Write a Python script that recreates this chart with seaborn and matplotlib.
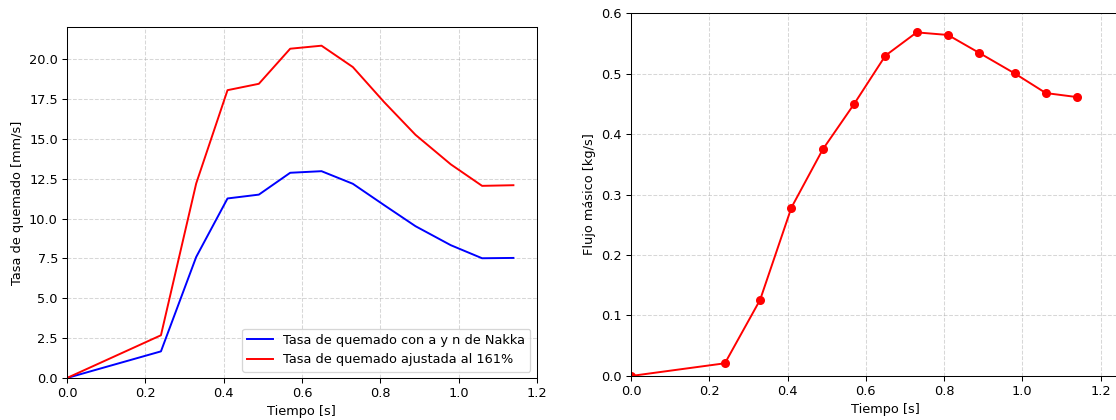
import matplotlib
matplotlib.use("Agg")
import matplotlib.pyplot as plt
import seaborn as sns
import numpy as np

tiempo = [0.0, 0.24, 0.33, 0.41, 0.49, 0.57, 0.65, 0.73, 0.81, 0.89, 0.98, 1.06, 1.14]
tasa_nakka = [0.0, 1.67, 7.59, 11.26, 11.50, 12.87, 12.97, 12.18, 10.84, 9.52, 8.33, 7.51, 7.53]
tasa_ajustada = [0.0, 2.68, 12.20, 18.05, 18.45, 20.65, 20.84, 19.50, 17.30, 15.25, 13.40, 12.05, 12.09]
flujo_masico = [0.0, 0.021, 0.126, 0.2785, 0.3745, 0.4495, 0.5295, 0.568, 0.5637, 0.534, 0.5003, 0.4677, 0.461]

label_nakka = "Tasa de quemado con a y n de Nakka"
label_ajust = "Tasa de quemado ajustada al 161%"

fig = plt.figure(figsize=(12, 420 / 93), dpi=93)
ax1 = fig.add_axes([0.0600, 0.100, 0.4211, 0.8364])
ax2 = fig.add_axes([0.5654, 0.1048, 0.4559, 0.8642])

sns.lineplot(x=tiempo, y=tasa_nakka, ax=ax1, color="blue", label=label_nakka, linewidth=1.5)
sns.lineplot(x=tiempo, y=tasa_ajustada, ax=ax1, color="red", label=label_ajust, linewidth=1.5)
ax1.set_xlim(0, 1.2)
ax1.set_ylim(0, 22.03)
ax1.set_xlabel("Tiempo [s]")
ax1.set_ylabel("Tasa de quemado [mm/s]")
ax1.grid(True, linestyle="--", alpha=0.5)
ax1.legend(loc="lower right")

sns.lineplot(x=tiempo, y=flujo_masico, ax=ax2, color="red", marker="o",
             markersize=7, markeredgewidth=0, linewidth=1.5)
ax2.set_xlim(0, 1.3)
ax2.set_ylim(0, 0.6)
ax2.set_xlabel("Tiempo [s]")
ax2.set_ylabel("Flujo másico [kg/s]")
ax2.grid(True, linestyle="--", alpha=0.5)

fig.savefig("out.png", dpi=93)
